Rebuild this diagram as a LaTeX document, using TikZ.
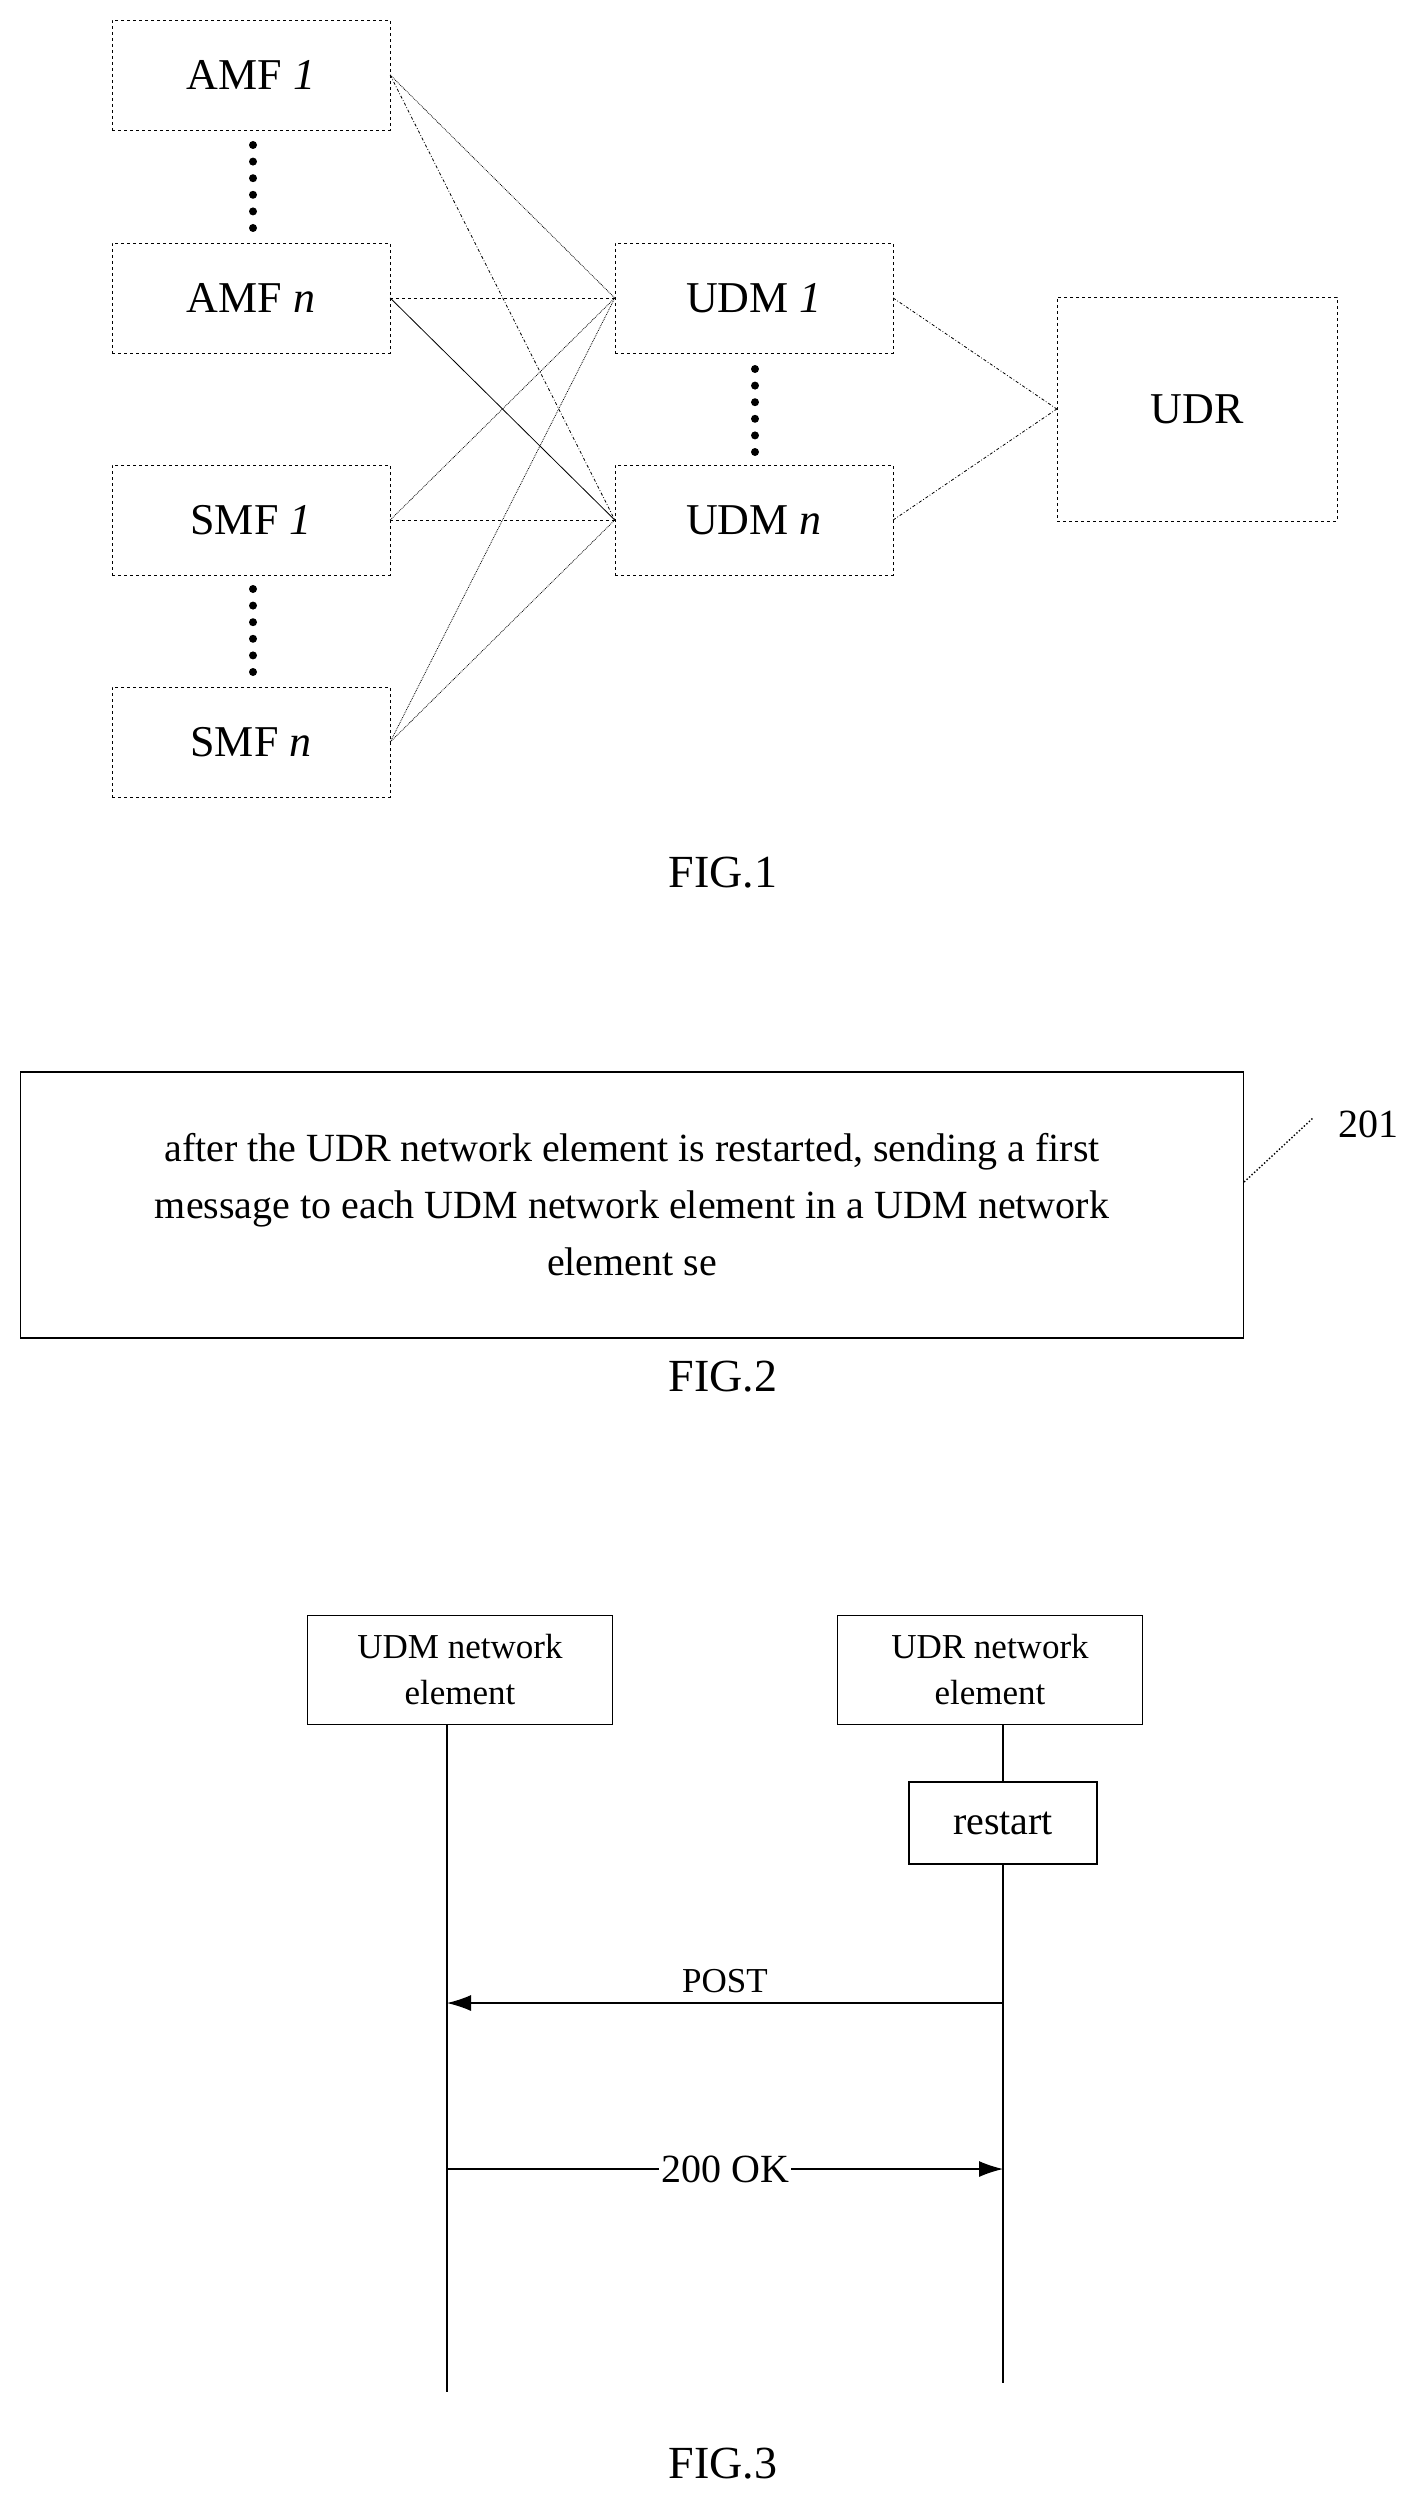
\documentclass[tikz,border=0pt]{standalone}
\usepackage{fontspec}
\setmainfont{Liberation Serif}
\usetikzlibrary{positioning,arrows.meta}

\tikzset{
  ne/.style={draw, dashed, minimum width=278pt, minimum height=110pt, font=\fontsize{44}{50}\selectfont},
  msc/.style={draw, minimum width=305pt, minimum height=109pt, align=center, font=\fontsize{35}{46}\selectfont},
  lnk/.style={line width=0.8pt},
  figlbl/.style={font=\fontsize{46}{50}\selectfont}
}

\begin{document}
\begin{tikzpicture}[x=1pt, y=-1pt]
  \useasboundingbox (0,0) rectangle (1412,2496);

  % FIG.1
  \node[ne] (amf1) at (251,75)  {AMF \textit{1}};
  \node[ne] (amfn) at (251,298) {AMF \textit{n}};
  \node[ne] (smf1) at (251,520) {SMF \textit{1}};
  \node[ne] (smfn) at (251,742) {SMF \textit{n}};
  \node[ne] (udm1) at (754,298) {UDM \textit{1}};
  \node[ne] (udmn) at (754,520) {UDM \textit{n}};
  \node[ne, minimum width=280pt, minimum height=224pt] (udr) at (1197,409) {UDR};

  \foreach \y in {145,161.6,...,229} {\fill (253,\y) circle (4pt);}
  \foreach \y in {145,161.6,...,229} {\fill (253,\y+444) circle (4pt);}
  \foreach \y in {369,385.6,...,453} {\fill (755,\y) circle (4pt);}

  \draw[lnk, densely dotted] (amf1.east) -- (udm1.west);
  \draw[lnk, dash dot] (amf1.east) -- (udmn.west);
  \draw[lnk, dashed] (amfn.east) -- (udm1.west);
  \draw[lnk] (amfn.east) -- (udmn.west);
  \draw[lnk, densely dotted] (smf1.east) -- (udm1.west);
  \draw[lnk, dashed] (smf1.east) -- (udmn.west);
  \draw[lnk, densely dotted] (smfn.east) -- (udm1.west);
  \draw[lnk, densely dotted] (smfn.east) -- (udmn.west);
  \draw[lnk, dash dot] (udm1.east) -- (udr.west);
  \draw[lnk, dash dot] (udmn.east) -- (udr.west);

  \node[figlbl] (fig1) at (723,873) {FIG.1};

  % FIG.2
  \node[draw, line width=1.2pt, minimum width=1223pt, minimum height=266pt, align=center,
        font=\fontsize{40}{57}\selectfont] (step) at (632,1205)
    {after the UDR network element is restarted, sending a first\\message to each UDM network element in a UDM network\\element se};
  \node[font=\fontsize{40}{50}\selectfont] (s201) at (1368,1124) {201};
  \coordinate (lead) at (1313,1118);
  \draw[dotted, line width=1.4pt] (step.east |- 0,1182) -- (lead);
  \node[figlbl] (fig2) at (723,1377) {FIG.2};

  % FIG.3
  \node[msc] (udm) at (460,1670) {UDM network\\element};
  \node[msc] (udrb) at (990,1670) {UDR network\\element};
  \coordinate (udmend) at (447,2392);
  \coordinate (udrend) at (1003,2383);
  \draw[line width=1.2pt] (udm.south -| udmend) -- (udmend);
  \draw[line width=1.2pt] (udrb.south -| udrend) -- (udrend);
  \node[draw, fill=white, line width=1.2pt, minimum width=188pt, minimum height=82pt, font=\fontsize{40}{46}\selectfont] (restart) at (1003,1823) {restart};
  \draw[-{Latex[length=24pt,width=16pt]}, line width=1.2pt] (1003,2003) -- node[above=6pt, font=\fontsize{35}{40}\selectfont] {POST} (447,2003);
  \draw[-{Latex[length=24pt,width=16pt]}, line width=1.2pt] (447,2169) -- node[fill=white, inner sep=2pt, font=\fontsize{40}{44}\selectfont] {200 OK} (1003,2169);
  \node[figlbl] (fig3) at (723,2464) {FIG.3};
\end{tikzpicture}
\end{document}
